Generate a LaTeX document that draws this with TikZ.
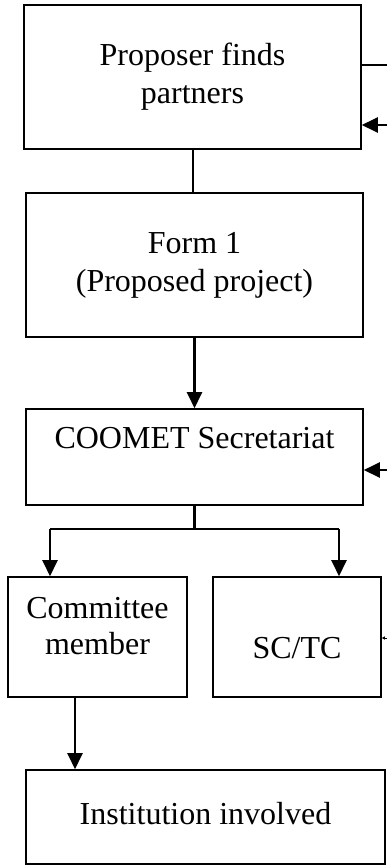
\documentclass[tikz,border=0pt]{standalone}
\usepackage{fontspec}
\setmainfont{Liberation Serif}
\usetikzlibrary{arrows.meta}

\begin{document}
\begin{tikzpicture}[x=1pt,y=-1pt,
  blockbox/.style={draw, line width=1.6pt, align=center, inner sep=0pt,
    font=\fontsize{32}{38}\selectfont},
  blocktext/.style={align=center, inner sep=0pt, font=\fontsize{32}{36}\selectfont},
  flow/.style={line width=2.4pt, -{Triangle[width=15pt,length=16pt]}},
  link/.style={line width=2.4pt}]
  \useasboundingbox (0,0) rectangle (387,865);

  % boxes
  \node[blockbox, minimum width=337pt, minimum height=144pt] (propose) at (192.5,77) {Proposer finds\\partners};
  \node[blockbox, minimum width=337pt, minimum height=144pt] (form) at (194.5,265) {Form 1\\(Proposed project)};
  \node[blockbox, minimum width=337pt, minimum height=96pt] (secr) at (194.5,457) {};
  \node[blocktext] (secrtext) at (194.5,438) {COOMET Secretariat};
  \node[blockbox, minimum width=179pt, minimum height=120pt] (member) at (97.5,637) {};
  \node[blocktext] (membertext) at (97.5,626) {Committee\\member};
  \node[blockbox, minimum width=168pt, minimum height=120pt] (sctc) at (297,637) {};
  \node[blocktext] (sctctext) at (297,648) {SC/TC};
  \node[blockbox, minimum width=359pt, minimum height=94pt] (inst) at (205.5,817) {};
  \node[blocktext] (insttext) at (205.5,814) {Institution involved};

  % connectors
  \draw[line width=2pt] (propose.south) -- (propose.south |- form.north);
  \draw[flow] (form.south) -- (secr.north);
  \coordinate (split) at (194.5,529);
  \coordinate (splitL) at (50,529);
  \coordinate (splitR) at (339,529);
  \draw[link] (secr.south) -- (split);
  \draw[link] (splitL) -- (splitR);
  \draw[flow] (splitL) -- (splitL |- member.north);
  \draw[flow] (splitR) -- (splitR |- sctc.north);
  \draw[flow] ([xshift=-22.5pt]member.south) -- ([xshift=-22.5pt]member.south |- inst.north);

  % lines leaving on the right
  \coordinate (edgeA) at (387,65);
  \coordinate (edgeB) at (387,125);
  \coordinate (edgeC) at (387,470);
  \coordinate (edgeD) at (387,638);
  \draw[link] (edgeA -| propose.east) -- (edgeA);
  \draw[flow] (edgeB) -- (edgeB -| propose.east);
  \draw[flow] (edgeC) -- (edgeC -| secr.east);
  \draw[line width=0.6pt, -{Triangle[width=3pt,length=3pt]}] (edgeD) -- (edgeD -| sctc.east);
\end{tikzpicture}
\end{document}
